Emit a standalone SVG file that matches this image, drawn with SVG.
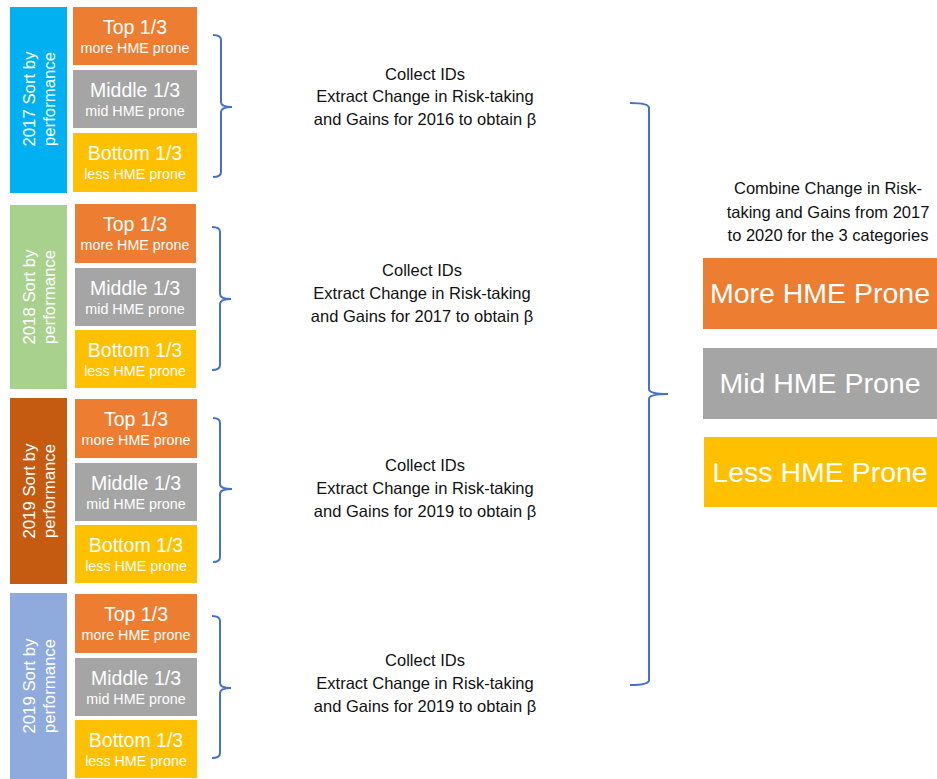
<svg xmlns="http://www.w3.org/2000/svg" width="937" height="779" viewBox="0 0 937 779">
<style>
text{font-family:"Liberation Sans",Arial,sans-serif}
.w{fill:#fff;text-anchor:middle}
.big{font-size:19.5px}
.sm{font-size:14.3px}
.side{font-size:16.8px}
.t{fill:#111;font-size:16.5px;text-anchor:middle}
.cat{fill:#fff;font-size:28.5px;text-anchor:middle}
.o{fill:#ED7D31}
.g{fill:#A5A5A5}
.y{fill:#FFC000}
.br{fill:none;stroke:#4472C4;stroke-width:2}
</style>
<rect width="937" height="779" fill="#fff"/>
<g id="block2017">
<rect x="10" y="7" width="57" height="186" fill="#00B0F0"/>
<text class="w side" transform="translate(38.5,99) rotate(-90)"><tspan x="0" y="-4">2017 Sort by</tspan><tspan x="0" y="16">performance</tspan></text>
<rect class="o" x="73" y="7" width="124" height="58"/>
<text class="w big" x="135" y="34">Top 1/3</text><text class="w sm" x="135" y="53">more HME prone</text>
<rect class="g" x="73" y="70" width="124" height="58"/>
<text class="w big" x="135" y="97">Middle 1/3</text><text class="w sm" x="135" y="116">mid HME prone</text>
<rect class="y" x="73" y="133" width="124" height="59"/>
<text class="w big" x="135" y="160">Bottom 1/3</text><text class="w sm" x="135" y="179">less HME prone</text>
</g>
<g id="block2018">
<rect x="10" y="205" width="57" height="184" fill="#A9D18E"/>
<text class="w side" transform="translate(38.5,297) rotate(-90)"><tspan x="0" y="-4">2018 Sort by</tspan><tspan x="0" y="16">performance</tspan></text>
<rect class="o" x="75" y="204" width="121" height="59"/>
<text class="w big" x="135" y="231">Top 1/3</text><text class="w sm" x="135" y="250">more HME prone</text>
<rect class="g" x="75" y="268" width="121" height="58"/>
<text class="w big" x="135" y="295">Middle 1/3</text><text class="w sm" x="135" y="314">mid HME prone</text>
<rect class="y" x="75" y="330" width="121" height="58"/>
<text class="w big" x="135" y="357">Bottom 1/3</text><text class="w sm" x="135" y="376">less HME prone</text>
</g>
<g id="block2019a">
<rect x="10" y="398" width="57" height="186" fill="#C55A11"/>
<text class="w side" transform="translate(38.5,491) rotate(-90)"><tspan x="0" y="-4">2019 Sort by</tspan><tspan x="0" y="16">performance</tspan></text>
<rect class="o" x="75" y="399" width="122" height="59"/>
<text class="w big" x="136" y="426">Top 1/3</text><text class="w sm" x="136" y="445">more HME prone</text>
<rect class="g" x="75" y="463" width="122" height="58"/>
<text class="w big" x="136" y="490">Middle 1/3</text><text class="w sm" x="136" y="509">mid HME prone</text>
<rect class="y" x="75" y="525" width="122" height="58"/>
<text class="w big" x="136" y="552">Bottom 1/3</text><text class="w sm" x="136" y="571">less HME prone</text>
</g>
<g id="block2019b">
<rect x="10" y="593" width="57" height="186" fill="#8FAADC"/>
<text class="w side" transform="translate(38.5,686) rotate(-90)"><tspan x="0" y="-4">2019 Sort by</tspan><tspan x="0" y="16">performance</tspan></text>
<rect class="o" x="75" y="594" width="122" height="59"/>
<text class="w big" x="136" y="621">Top 1/3</text><text class="w sm" x="136" y="640">more HME prone</text>
<rect class="g" x="75" y="658" width="122" height="58"/>
<text class="w big" x="136" y="685">Middle 1/3</text><text class="w sm" x="136" y="704">mid HME prone</text>
<rect class="y" x="75" y="720" width="122" height="58"/>
<text class="w big" x="136" y="747">Bottom 1/3</text><text class="w sm" x="136" y="766">less HME prone</text>
</g>
<g id="step1"><text class="t"><tspan x="425" y="80">Collect IDs</tspan><tspan x="425" y="102">Extract Change in Risk-taking</tspan><tspan x="425" y="125">and Gains for 2016 to obtain β</tspan></text></g>
<g id="step2"><text class="t"><tspan x="422" y="276">Collect IDs</tspan><tspan x="422" y="299">Extract Change in Risk-taking</tspan><tspan x="422" y="322">and Gains for 2017 to obtain β</tspan></text></g>
<g id="step3"><text class="t"><tspan x="425" y="471">Collect IDs</tspan><tspan x="425" y="494">Extract Change in Risk-taking</tspan><tspan x="425" y="517">and Gains for 2019 to obtain β</tspan></text></g>
<g id="step4"><text class="t"><tspan x="425" y="666">Collect IDs</tspan><tspan x="425" y="689">Extract Change in Risk-taking</tspan><tspan x="425" y="712">and Gains for 2019 to obtain β</tspan></text></g>
<g id="combine"><text class="t"><tspan x="828" y="194">Combine Change in Risk-</tspan><tspan x="828" y="218">taking and Gains from 2017</tspan><tspan x="828" y="241">to 2020 for the 3 categories</tspan></text></g>
<g id="more"><rect class="o" x="703" y="258" width="234" height="71"/><text class="cat" x="820" y="303">More HME Prone</text></g>
<g id="mid"><rect class="g" x="703" y="348" width="234" height="71"/><text class="cat" x="820" y="393">Mid HME Prone</text></g>
<g id="less"><rect class="y" x="704" y="437" width="233" height="70"/><text class="cat" x="820" y="482">Less HME Prone</text></g>
<g id="connectors">
<path class="br" d="M213,35 Q221,35 221,40 L221,102 Q221,107 232,107 Q221,107 221,112 L221,172 Q221,177 213,177"/>
<path class="br" d="M212,227 Q220,227 220,232 L220,294 Q220,299 231,299 Q220,299 220,304 L220,365 Q220,370 212,370"/>
<path class="br" d="M213,418 Q220,418 220,423 L220,484 Q220,489 232,489 Q220,489 220,494 L220,557 Q220,562 213,562"/>
<path class="br" d="M212,616 Q220,616 220,621 L220,683 Q220,688 231,688 Q220,688 220,693 L220,753 Q220,758 212,758"/>
<path class="br" d="M630,103 Q649,103 649,108 L649,389 Q649,394 668,394 Q649,394 649,399 L649,680 Q649,685 630,685"/>
</g>
</svg>
